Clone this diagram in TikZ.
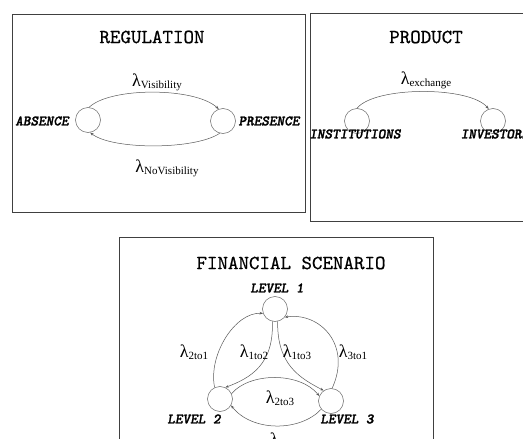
\documentclass[tikz,border=0pt]{standalone}
\usepackage{fontspec}
\setmainfont{Liberation Serif}
\newfontfamily\titlefont[FakeBold=0.6]{lmmono10-regular.otf}
\newfontfamily\statefont[FakeBold=1.6]{lmmonolt10-boldoblique.otf}
\usetikzlibrary{arrows.meta}

\tikzset{
  panel/.style={draw=black!75, line width=0.8pt},
  paneltitle/.style={font=\titlefont\fontsize{20}{20}\selectfont, inner sep=0pt},
  state/.style={circle, draw=black!60, line width=0.5pt, minimum size=25pt, inner sep=0pt},
  statelabel/.style={font=\statefont\fontsize{14.5}{15}\selectfont, inner sep=0pt},
  trans/.style={draw=black!65, line width=0.5pt, -{Stealth[length=3.5pt,width=2.6pt]}},
  rate/.style={inner sep=0pt}
}
% transition rate: lambda with a text subscript
\newcommand\ratelabel[1]{{\fontsize{18}{18}\selectfont λ}\raisebox{-0.45ex}{\fontsize{11}{11}\selectfont #1}}

\begin{document}
\begin{tikzpicture}[x=1pt,y=-1pt]
  \useasboundingbox (0,0) rectangle (523,439);
  \fill[white] (0,0) rectangle (523,439);
  \clip (0,0) rectangle (523,439);

  % ---- Regulation panel ----
  \draw[panel] (12,14) rectangle (305,212);
  \node[paneltitle] (regT) at (152,37) {REGULATION};
  \node[state] (abs) at (88,120) {};
  \node[state] (pres) at (223,121) {};
  \node[statelabel] (absL) at (42,121) {ABSENCE};
  \node[statelabel] (presL) at (269,121) {PRESENCE};
  \draw[trans] (abs.85) .. controls (110,87) and (195,87) .. (pres.110);
  \draw[trans] (pres.255) .. controls (195,150) and (112,150) .. (abs.280);
  \node[rate] (rVis) at (157,82) {\ratelabel{Visibility}};
  \node[rate] (rNoVis) at (167,168) {\ratelabel{NoVisibility}};

  % ---- Product panel ----
  \draw[panel] (310,13) rectangle (535,221);
  \node[paneltitle] (prodT) at (426,37) {PRODUCT};
  \node[state] (inst) at (357,121) {};
  \node[state] (inv) at (493,121) {};
  \node[statelabel] (instL) at (355,134) {INSTITUTIONS};
  \node[statelabel] (invL) at (495,134) {INVESTORS};
  \draw[trans] (inst.north) .. controls (375,86) and (470,86) .. (inv.110);
  \node[rate] (rEx) at (426,80) {\ratelabel{exchange}};

  % ---- Financial scenario panel ----
  \draw[panel] (119,237) rectangle (433,450);
  \node[paneltitle] (finT) at (291,263) {FINANCIAL SCENARIO};
  \node[state] (l1) at (275,309) {};
  \node[state] (l2) at (220,399) {};
  \node[state] (l3) at (331,401) {};
  \node[statelabel] (l1L) at (277,288) {LEVEL 1};
  \node[statelabel] (l2L) at (194,419) {LEVEL 2};
  \node[statelabel] (l3L) at (347,419) {LEVEL 3};
  \draw[trans] (l2.115) .. controls (208,355) and (235,312) .. (l1.200);
  \draw[trans] (l1.258) .. controls (274,365) and (250,378) .. (l2.65);
  \draw[trans] (l1.282) .. controls (277,365) and (300,378) .. (l3.125);
  \draw[trans] (l3.85) .. controls (352,345) and (320,312) .. (l1.320);
  \draw[trans] (l2.25) .. controls (250,372) and (300,372) .. (l3.157);
  \draw[trans] (l3.220) .. controls (300,432) and (252,432) .. (l2.330);
  \node[rate] (r21) at (194,352) {\ratelabel{2to1}};
  \node[rate] (r12) at (254,352) {\ratelabel{1to2}};
  \node[rate] (r13) at (297,352) {\ratelabel{1to3}};
  \node[rate] (r31) at (353,352) {\ratelabel{3to1}};
  \node[rate] (r23) at (280,398) {\ratelabel{2to3}};
  \node[rate] (r32) at (284,440) {\ratelabel{3to2}};
\end{tikzpicture}
\end{document}
